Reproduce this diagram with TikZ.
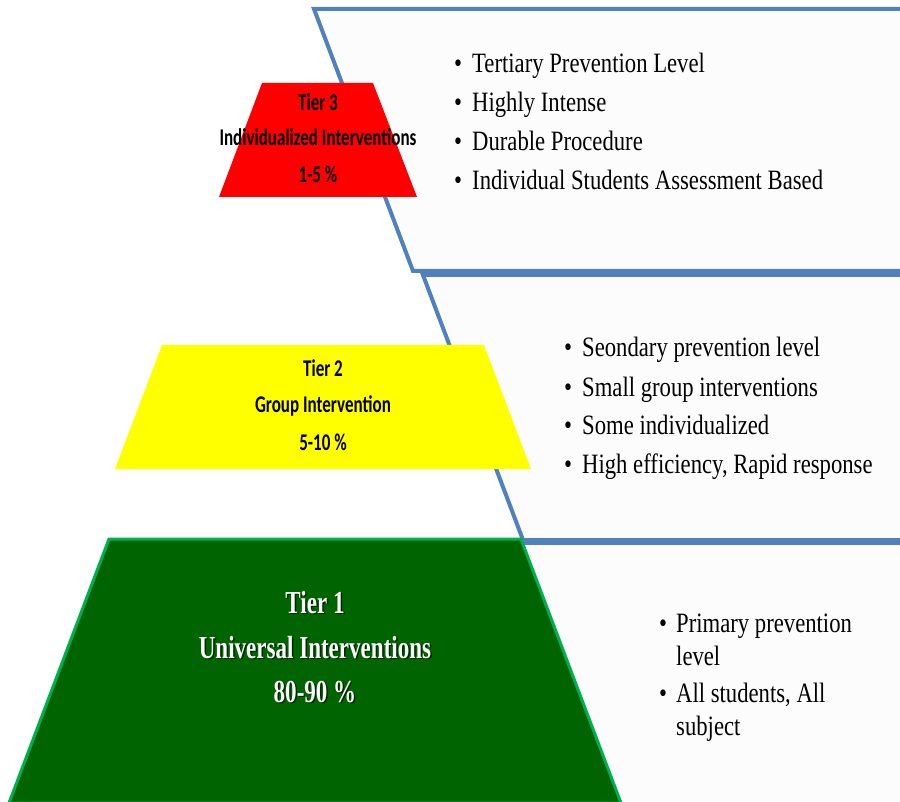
\documentclass[tikz,border=0pt]{standalone}
\usepackage{fontspec}
\setmainfont{Liberation Serif}
\newfontfamily\bulletfont[FakeStretch=0.81]{Liberation Serif}
\newfontfamily\tierfont[FakeStretch=0.71]{Carlito}
\newfontfamily\tieronefont[FakeStretch=0.72]{Liberation Serif}
\definecolor{blueline}{RGB}{79,129,189}
\definecolor{panelfill}{RGB}{252,252,252}
\definecolor{tierred}{RGB}{255,0,0}
\definecolor{tieryellow}{RGB}{255,255,0}
\definecolor{tiergreen}{RGB}{0,100,0}
\definecolor{greenedge}{RGB}{0,176,80}
\tikzset{
  panelline/.style={draw=blueline, line width=4pt, line join=miter},
  bul/.style={anchor=base west, inner sep=0pt, font=\bulletfont\fontsize{28}{34}\selectfont},
  tiertext/.style={anchor=base, inner sep=0pt, font=\tierfont\bfseries\fontsize{24}{28}\selectfont},
  tieronetext/.style={anchor=base, inner sep=0pt, text=white, font=\tieronefont\bfseries\fontsize{32}{36}\selectfont},
  tieroneshadow/.style={anchor=base, inner sep=0pt, text=black, opacity=0.6, font=\tieronefont\bfseries\fontsize{32}{36}\selectfont}
}
\begin{document}
\begin{tikzpicture}[x=1pt,y=-1pt]
\useasboundingbox (0,0) rectangle (900,802);
\fill[white] (0,0) rectangle (900,802);
% panels
\fill[panelfill] (314,9) -- (900,9) -- (900,271) -- (413,271) -- cycle;
\draw[panelline] (900,9) -- (314,9) -- (413,271) -- (900,271);
\fill[panelfill] (423,275) -- (900,275) -- (900,540) -- (523,540) -- cycle;
\draw[panelline] (900,275) -- (423,275) -- (523,540) -- (900,540);
\fill[panelfill] (522,543) -- (900,543) -- (900,802) -- (621,802) -- cycle;
\draw[panelline] (522,543) -- (900,543);
% trapezoids
\fill[tierred] (262,83) -- (373,83) -- (417,197) -- (219,197) -- cycle;
\fill[tieryellow] (162,345) -- (484,345) -- (531,469) -- (115,469) -- cycle;
\filldraw[fill=tiergreen, draw=greenedge, line width=3pt] (109,539) -- (521,539) -- (621,803) -- (9,803) -- cycle;
% tier 3 text
\node[tiertext] (t3a) at (318,111) {Tier 3};
\node[tiertext] (t3b) at (318,146) {Individualized Interventions};
\node[tiertext] (t3c) at (318,183) {1-5 \%};
% tier 2 text
\node[tiertext] (t2a) at (323,377) {Tier 2};
\node[tiertext] (t2b) at (323,413) {Group Intervention};
\node[tiertext] (t2c) at (323,450) {5-10 \%};
% tier 1 text with shadow
\node[tieroneshadow] (s1a) at (316.5,614.5) {Tier 1};
\node[tieroneshadow] (s1b) at (316.5,659.5) {Universal Interventions};
\node[tieroneshadow] (s1c) at (316.5,703.5) {80-90 \%};
\node[tieronetext] (t1a) at (315,613) {Tier 1};
\node[tieronetext] (t1b) at (315,658) {Universal Interventions};
\node[tieronetext] (t1c) at (315,702) {80-90 \%};
% bullets panel 1
\node[bul] (b3a) at (454,73) {•};
\node[bul] (l3a) at (472,73) {Tertiary Prevention Level};
\node[bul] (b3b) at (454,112) {•};
\node[bul] (l3b) at (472,112) {Highly Intense};
\node[bul] (b3c) at (454,151) {•};
\node[bul] (l3c) at (472,151) {Durable Procedure};
\node[bul] (b3d) at (454,190) {•};
\node[bul] (l3d) at (472,190) {Individual Students Assessment Based};
% bullets panel 2
\node[bul] (b2a) at (564,357) {•};
\node[bul] (l2a) at (582,357) {Seondary prevention level};
\node[bul] (b2b) at (564,396) {•};
\node[bul] (l2b) at (582,396) {Small group interventions};
\node[bul] (b2c) at (564,435) {•};
\node[bul] (l2c) at (582,435) {Some individualized};
\node[bul] (b2d) at (564,473) {•};
\node[bul] (l2d) at (582,473) {High efficiency,  Rapid response};
% bullets panel 3
\node[bul] (b1a) at (659,632) {•};
\node[bul] (l1a) at (676,632) {Primary prevention};
\node[bul] (l1b) at (676,665) {level};
\node[bul] (b1c) at (659,702) {•};
\node[bul] (l1c) at (676,702) {All students, All};
\node[bul] (l1d) at (676,735) {subject};
\end{tikzpicture}
\end{document}
